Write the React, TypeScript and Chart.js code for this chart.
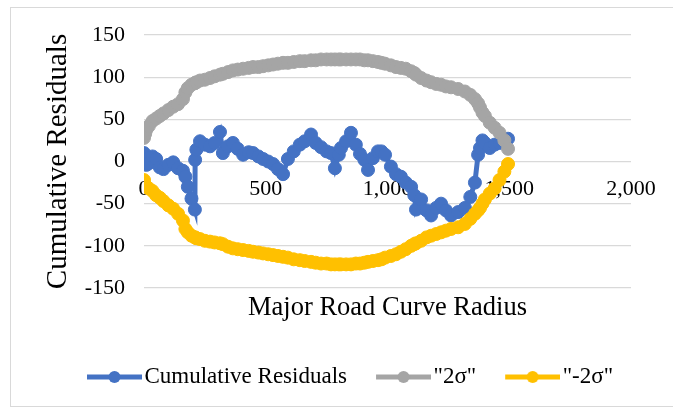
import React, { useEffect, useRef } from 'react';
import { Chart, registerables } from 'chart.js';

Chart.register(...registerables);

// Major Road Curve Radius (x)
const radius = [
  0, 5, 10, 20, 35, 50, 65, 80, 100, 120, 140, 160, 170, 180, 195, 209, 210, 215, 230, 250,
  271, 290, 312, 324, 345, 365, 385, 407, 430, 448, 470, 489, 510, 530, 550, 571, 591, 615, 640, 660,
  686, 705, 727, 750, 768, 784, 800, 809, 830, 850, 870, 887, 905, 920, 940, 961, 975, 990, 1014, 1035,
  1055, 1075, 1097, 1110, 1117, 1138, 1160, 1179, 1200, 1220, 1240, 1261, 1290, 1318, 1340, 1359, 1372, 1380, 1390, 1400,
  1420, 1440, 1460, 1480, 1495,
];

const cumulativeResiduals = [
  10, 2, -4, -2, 6, 3, -7, -9, -4, -1, -8, -11, -18, -30, -44, -57, 2, 14, 24, 20,
  18, 22, 35, 10, 18, 22, 15, 8, 11, 10, 6, 3, 0, -3, -9, -15, 3, 12, 20, 24,
  32, 22, 17, 12, 10, -8, 8, 16, 24, 34, 20, 9, 2, -10, 4, 12, 12, 8, -6, -15,
  -18, -25, -30, -40, -57, -45, -58, -64, -55, -50, -58, -64, -60, -55, -42, -25, 8, 16, 25, 22,
  16, 20, 22, 24, 27,
];

const upperTwoSigma = [
  28, 33, 38, 42, 48, 51, 54, 57, 61, 65, 68, 74, 82, 87, 91, 93, 93, 94, 96, 97,
  99, 101, 103, 104, 106, 108, 109, 110, 111, 112, 112, 113, 114, 115, 116, 117, 117, 118, 119, 119,
  120, 120, 121, 121, 121, 121, 121, 121, 121, 121, 121, 121, 120, 120, 119, 118, 117, 116, 114, 112,
  111, 110, 107, 105, 103, 99, 96, 94, 92, 91, 89, 88, 86, 83, 79, 74, 69, 64, 58, 54,
  46, 40, 34, 25, 15,
];

const lowerTwoSigma = [
  -22, -28, -30, -32, -35, -40, -43, -47, -52, -56, -62, -70, -80, -84, -88, -90, -90, -91, -92, -94,
  -95, -96, -97, -98, -101, -103, -104, -105, -106, -107, -108, -109, -110, -111, -112, -113, -114, -116, -117, -118,
  -119, -120, -121, -121, -122, -122, -122, -122, -122, -122, -121, -121, -120, -119, -118, -117, -116, -114, -112, -110,
  -107, -104, -100, -98, -97, -94, -90, -88, -86, -84, -82, -80, -78, -74, -68, -62, -58, -55, -50, -45,
  -38, -32, -22, -12, -3,
];

const xTicks = [0, 500, 1000, 1500, 2000];
const yTicks = [-150, -100, -50, 0, 50, 100, 150];
const seriesNames = ['Cumulative Residuals', '"2\u03c3"', '"-2\u03c3"'];
const seriesColors = ['#4472C4', '#A5A5A5', '#FFC000'];
const xTitle = 'Major Road Curve Radius';
const yTitle = 'Cumulative Residuals';

const FONT = '"Liberation Serif", "Times New Roman", serif';

// legend swatch: 55px line with a marker, right-aligned in a 73px image
function makeLegendImage(color: string): HTMLCanvasElement {
  const c = document.createElement('canvas');
  c.width = 73;
  c.height = 14;
  const ctx = c.getContext('2d')!;
  ctx.strokeStyle = color;
  ctx.lineWidth = 5;
  ctx.beginPath();
  ctx.moveTo(18, 7);
  ctx.lineTo(73, 7);
  ctx.stroke();
  ctx.fillStyle = color;
  ctx.beginPath();
  ctx.arc(45.5, 7, 6, 0, Math.PI * 2);
  ctx.fill();
  return c;
}

const legendShift = {
  id: 'legendShift',
  afterLayout(chart: any) {
    const l = chart.legend;
    if (l) {
      l.left += 18;
      l.right += 18;
    }
  },
};

export default function App() {
  const ref = useRef<HTMLCanvasElement | null>(null);

  useEffect(() => {
    if (!ref.current) return;
    const images = seriesColors.map((c) => makeLegendImage(c));
    const series = [cumulativeResiduals, upperTwoSigma, lowerTwoSigma];
    const datasets = series.map((vals, i) => ({
      label: seriesNames[i],
      data: radius.map((x, j) => ({ x, y: vals[j] })),
      showLine: true,
      borderColor: seriesColors[i],
      backgroundColor: seriesColors[i],
      borderWidth: 5,
      pointRadius: 6.5,
      pointBorderWidth: 1,
      pointBackgroundColor: seriesColors[i],
      pointBorderColor: seriesColors[i],
      order: 2 - i,
    }));

    const chart = new Chart(ref.current, {
      type: 'scatter',
      data: { datasets },
      plugins: [legendShift],
      options: {
        animation: false,
        responsive: false,
        events: [],
        layout: { padding: { left: 40, right: 42, top: 35, bottom: 12.5 } },
        plugins: {
          tooltip: { enabled: false },
          title: {
            display: true,
            text: xTitle,
            position: 'bottom',
            fullSize: false,
            weight: 500,
            padding: { top: 4, bottom: 21.7 },
            color: '#000',
            font: { family: FONT, size: 26.5, weight: 'normal' },
          },
          legend: {
            display: true,
            position: 'bottom',
            align: 'start',
            labels: {
              usePointStyle: true,
              pointStyleWidth: 55,
              padding: 20,
              color: '#000',
              font: { family: FONT, size: 23 },
              generateLabels: (ch: any) =>
                ch.data.datasets.map((ds: any, i: number) => ({
                  text: ds.label,
                  pointStyle: images[i],
                  fillStyle: seriesColors[i],
                  strokeStyle: seriesColors[i],
                  lineWidth: 0,
                  hidden: false,
                  datasetIndex: i,
                  fontColor: '#000',
                })),
            },
          },
        },
        scales: {
          x: {
            type: 'linear',
            position: { y: 0 },
            min: xTicks[0],
            max: xTicks[xTicks.length - 1],
            ticks: {
              stepSize: xTicks[1] - xTicks[0],
              padding: 14.8,
              color: '#000',
              font: { family: FONT, size: 22 },
              maxRotation: 0,
              callback: (v: any) => Number(v).toLocaleString('en-US'),
            },
            grid: { display: false, drawTicks: false },
            border: { display: false },
          },
          y: {
            type: 'linear',
            position: 'left',
            min: yTicks[0],
            max: yTicks[yTicks.length - 1],
            ticks: {
              stepSize: yTicks[1] - yTicks[0],
              padding: 19,
              color: '#000',
              font: { family: FONT, size: 22 },
            },
            grid: { color: '#d9d9d9', lineWidth: 1.2, drawTicks: false },
            border: { display: false },
            title: {
              display: true,
              text: yTitle,
              color: '#000',
              font: { family: FONT, size: 29, weight: 'normal' },
              padding: { top: 0.6, bottom: 0 },
            },
            afterFit: (s: any) => {
              s.width = 104;
            },
          },
        },
      } as any,
    });
    return () => chart.destroy();
  }, []);

  return (
    <div
      style={{
        position: 'absolute',
        left: 0,
        top: 0,
        width: 673,
        height: 411,
        overflow: 'hidden',
        background: '#fff',
      }}
    >
      <div
        style={{
          position: 'absolute',
          left: 10,
          top: 7,
          width: 700,
          height: 400,
          border: '1px solid #d9d9d9',
          boxSizing: 'border-box',
        }}
      />
      <canvas ref={ref} width={673} height={411} style={{ position: 'absolute', left: 0, top: 0 }} />
    </div>
  );
}
